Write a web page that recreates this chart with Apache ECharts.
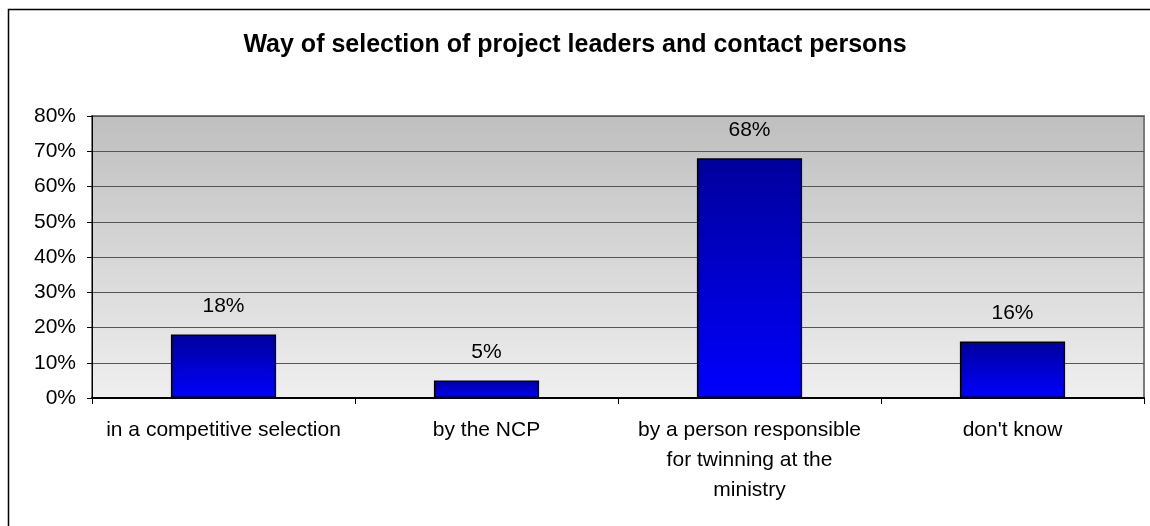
<!DOCTYPE html>
<html>
<head>
<meta charset="utf-8">
<script src="https://cdn.jsdelivr.net/npm/echarts@6/dist/echarts.min.js"></script>
<style>
  html, body { margin: 0; padding: 0; background: #ffffff; }
  #chart { width: 1150px; height: 526px; }
</style>
</head>
<body>
<div id="chart"></div>
<script>
// Survey answers: how project leaders and contact persons were selected
const chartTitle = 'Way of selection of project leaders and contact persons';
const categories = [
  'in a competitive selection',
  'by the NCP',
  'by a person responsible\nfor twinning at the\nministry',
  "don't know"
];
const shares = [18, 5, 68, 16];          // percent of respondents
const yTicks = [0, 10, 20, 30, 40, 50, 60, 70, 80];

const FONT = '"Liberation Sans", Arial, sans-serif';

const chart = echarts.init(document.getElementById('chart'), null, { renderer: 'canvas' });

chart.setOption({
  animation: false,
  backgroundColor: '#ffffff',
  title: {
    text: chartTitle,
    left: 'center',
    top: 28,
    textStyle: { fontFamily: FONT, fontSize: 25, fontWeight: 'bold', color: '#000000' }
  },
  graphic: [
    {
      // outer chart frame (runs off the right and bottom edges)
      type: 'rect',
      shape: { x: 8.5, y: 9.5, width: 1200, height: 600 },
      style: { fill: 'none', stroke: '#000000', lineWidth: 1.5 },
      silent: true,
      z: 100
    }
  ],
  grid: {
    left: 92,
    right: 6,
    top: 116,
    bottom: 128,
    show: true,
    borderWidth: 2,
    borderColor: '#7a7a7a',
    backgroundColor: new echarts.graphic.LinearGradient(0, 0, 0, 1, [
      { offset: 0, color: '#bfbfbf' },
      { offset: 1, color: '#efefef' }
    ])
  },
  xAxis: {
    type: 'category',
    data: categories,
    axisLine: { show: true, lineStyle: { color: '#000000', width: 2 } },
    axisTick: { show: true, alignWithLabel: false, length: 6, lineStyle: { color: '#000000', width: 1 } },
    axisLabel: {
      interval: 0,
      margin: 17,
      fontFamily: FONT,
      fontSize: 21,
      color: '#000000',
      lineHeight: 30,
      align: 'center'
    },
    splitLine: { show: false }
  },
  yAxis: {
    type: 'value',
    min: yTicks[0],
    max: yTicks[yTicks.length - 1],
    interval: 10,
    axisLine: { show: true, lineStyle: { color: '#000000', width: 1 } },
    axisTick: { show: true, inside: false, length: 5, lineStyle: { color: '#000000' } },
    axisLabel: {
      margin: 16,
      fontFamily: FONT,
      fontSize: 21,
      color: '#000000',
      formatter: v => v + '%'
    },
    splitLine: { show: true, lineStyle: { color: '#555555', width: 1 } }
  },
  series: [
    {
      type: 'bar',
      data: shares,
      barWidth: '40%',
      itemStyle: {
        color: new echarts.graphic.LinearGradient(0, 0, 0, 1, [
          { offset: 0, color: '#00009c' },
          { offset: 1, color: '#0000ff' }
        ]),
        borderColor: '#000000',
        borderWidth: 1.5
      },
      label: {
        show: true,
        position: 'top',
        distance: 18,
        fontFamily: FONT,
        fontSize: 21,
        color: '#000000',
        formatter: p => p.value + '%'
      },
      z: 3
    }
  ]
});
</script>
</body>
</html>
